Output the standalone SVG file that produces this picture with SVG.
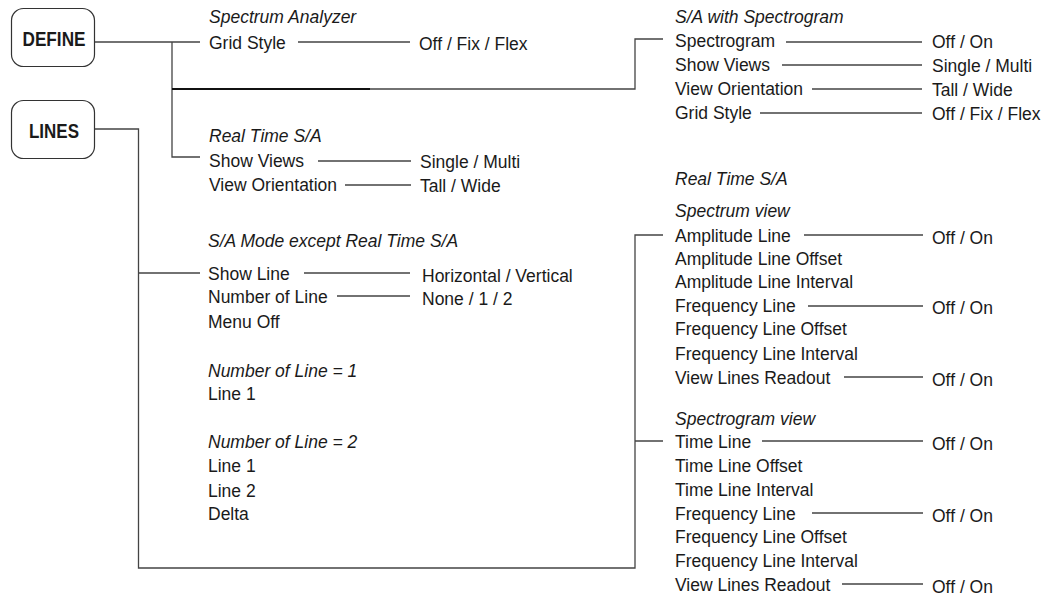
<svg xmlns="http://www.w3.org/2000/svg" width="1042" height="597" viewBox="0 0 1042 597">
<style>
text{font-family:"Liberation Sans",Arial,sans-serif;font-size:17.5px;fill:#1a1a1a}
.i{font-style:italic}
.b{font-weight:bold;font-size:20px;text-anchor:middle}
.box{fill:#fff;stroke:#333;stroke-width:1.2}
.c{fill:none;stroke:#444;stroke-width:1.3}
.k{fill:none;stroke:#111;stroke-width:2}
</style>
<rect width="1042" height="597" fill="#fff"/>
<g id="connectors">
<path class="c" d="M95,42 H200 M172,42 V157 H200 M370,89 H635 V39 H663"/>
<path class="k" d="M172,89 H370"/>
<path class="c" d="M95,129 H138.5 V568 H635 V235 H663 M138.5,273 H200 M635,441 H663"/>
<path class="c" d="M298,42 H410 M318,161 H411 M345,185 H411 M304,273 H410 M337,296 H410"/>
<path class="c" d="M786,42 H922 M782,65 H922 M812,89 H922 M760,113 H922"/>
<path class="c" d="M804,235 H923 M808,306 H923 M844,377 H923 M762,441 H923 M812,513 H923 M842,584 H923"/>
</g>
<g id="define">
<rect class="box" x="11.5" y="8.5" width="83" height="58" rx="12"/>
<text class="b" x="54" y="46" textLength="63" lengthAdjust="spacingAndGlyphs">DEFINE</text>
</g>
<g id="lines">
<rect class="box" x="11.5" y="100.5" width="83" height="58" rx="12"/>
<text class="b" x="54" y="138" textLength="50" lengthAdjust="spacingAndGlyphs">LINES</text>
</g>
<g id="spectrum-analyzer">
<text class="i" x="209" y="23">Spectrum Analyzer</text>
<text x="209" y="48.5">Grid Style</text>
<text x="419" y="50">Off / Fix / Flex</text>
</g>
<g id="real-time-sa-define">
<text class="i" x="209" y="142">Real Time S/A</text>
<text x="209" y="167">Show Views</text>
<text x="420" y="168">Single / Multi</text>
<text x="209" y="191">View Orientation</text>
<text x="420" y="192">Tall / Wide</text>
</g>
<g id="sa-mode-lines">
<text class="i" x="208" y="247">S/A Mode except Real Time S/A</text>
<text x="208" y="280">Show Line</text>
<text x="422" y="282">Horizontal / Vertical</text>
<text x="208" y="303">Number of Line</text>
<text x="422" y="305">None / 1 / 2</text>
<text x="208" y="328">Menu Off</text>
<text class="i" x="208" y="377">Number of Line = 1</text>
<text x="208" y="400">Line 1</text>
<text class="i" x="208" y="448">Number of Line = 2</text>
<text x="208" y="472">Line 1</text>
<text x="208" y="497">Line 2</text>
<text x="208" y="520">Delta</text>
</g>
<g id="sa-with-spectrogram">
<text class="i" x="675" y="23">S/A with Spectrogram</text>
<text x="675" y="47">Spectrogram</text>
<text x="932" y="48">Off / On</text>
<text x="675" y="71">Show Views</text>
<text x="932" y="72">Single / Multi</text>
<text x="675" y="95">View Orientation</text>
<text x="932" y="96">Tall / Wide</text>
<text x="675" y="118.5">Grid Style</text>
<text x="932" y="119.5">Off / Fix / Flex</text>
</g>
<g id="real-time-sa-lines">
<text class="i" x="675" y="185">Real Time S/A</text>
<text class="i" x="675" y="217">Spectrum view</text>
<text x="675" y="242">Amplitude Line</text>
<text x="932" y="244">Off / On</text>
<text x="675" y="265">Amplitude Line Offset</text>
<text x="675" y="288">Amplitude Line Interval</text>
<text x="675" y="312">Frequency Line</text>
<text x="932" y="314">Off / On</text>
<text x="675" y="335">Frequency Line Offset</text>
<text x="675" y="360">Frequency Line Interval</text>
<text x="675" y="384">View Lines Readout</text>
<text x="932" y="386">Off / On</text>
<text class="i" x="675" y="425">Spectrogram view</text>
<text x="675" y="448">Time Line</text>
<text x="932" y="450">Off / On</text>
<text x="675" y="472">Time Line Offset</text>
<text x="675" y="496">Time Line Interval</text>
<text x="675" y="520">Frequency Line</text>
<text x="932" y="522">Off / On</text>
<text x="675" y="543">Frequency Line Offset</text>
<text x="675" y="567">Frequency Line Interval</text>
<text x="675" y="591">View Lines Readout</text>
<text x="932" y="593">Off / On</text>
</g>
</svg>
